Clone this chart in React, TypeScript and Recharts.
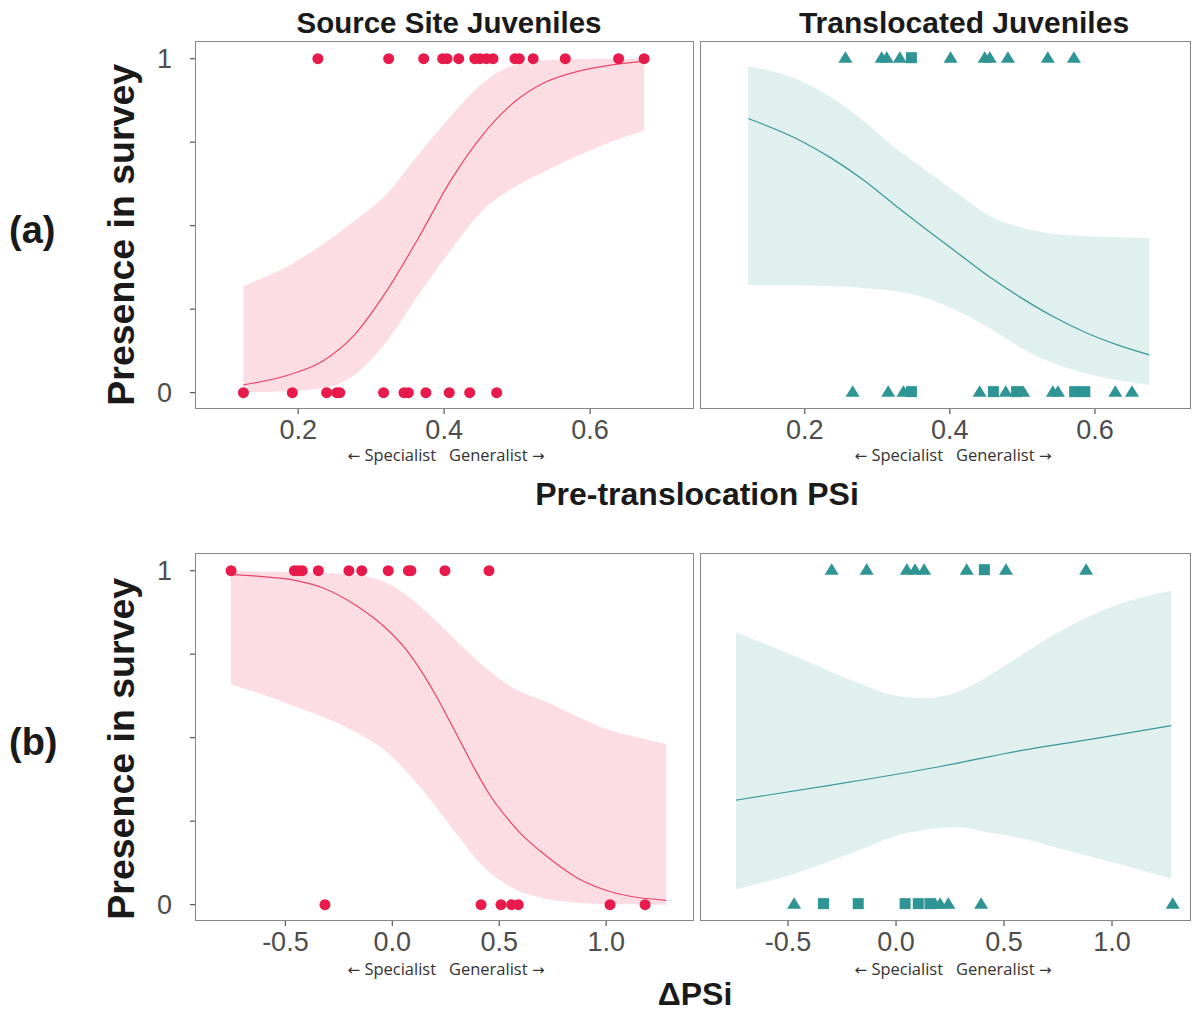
import React from "react";
import { ComposedChart, Area, Line, Scatter, XAxis, YAxis } from "recharts";

// presence (1) / absence (0) points, x = PSi or ΔPSi
const srcPsiPresent = [0.227, 0.324, 0.372, 0.398, 0.404, 0.42, 0.442, 0.449, 0.458, 0.467, 0.497, 0.503, 0.522, 0.566, 0.639, 0.674];
const srcPsiAbsent = [0.125, 0.192, 0.239, 0.253, 0.257, 0.317, 0.345, 0.351, 0.375, 0.407, 0.435, 0.472];
const trnPsiPresentTri = [0.256, 0.306, 0.313, 0.331, 0.401, 0.448, 0.455, 0.48, 0.535, 0.571];
const trnPsiPresentSq = [0.347];
const trnPsiAbsentTri = [0.266, 0.315, 0.336, 0.441, 0.477, 0.501, 0.542, 0.549, 0.628, 0.651];
const trnPsiAbsentSq = [0.347, 0.46, 0.492, 0.572, 0.586];

const srcDPresent = [-0.754, -0.458, -0.44, -0.421, -0.346, -0.203, -0.143, -0.019, 0.075, 0.087, 0.246, 0.452];
const srcDAbsent = [-0.315, 0.415, 0.508, 0.558, 0.589, 1.018, 1.182];
const trnDPresentTri = [-0.298, -0.136, 0.05, 0.088, 0.13, 0.327, 0.509, 0.88];
const trnDPresentSq = [0.409];
const trnDAbsentTri = [-0.472, 0.18, 0.204, 0.242, 0.394, 1.281];
const trnDAbsentSq = [-0.336, -0.175, 0.042, 0.103, 0.157];

// fitted curves and confidence bands
const srcPsiFitX = [0.125, 0.19, 0.234, 0.277, 0.321, 0.365, 0.408, 0.452, 0.495, 0.539, 0.583, 0.626, 0.674];
const srcPsiFitY = [0.023, 0.055, 0.095, 0.173, 0.304, 0.464, 0.632, 0.77, 0.868, 0.93, 0.962, 0.98, 0.993];
const srcPsiLo = [0.001, 0.005, 0.013, 0.053, 0.153, 0.294, 0.424, 0.544, 0.614, 0.664, 0.709, 0.749, 0.784];
const srcPsiHi = [0.319, 0.384, 0.444, 0.514, 0.594, 0.714, 0.825, 0.925, 0.98, 0.995, 0.999, 1.0, 1.0];

const trnPsiFitX = [0.122, 0.193, 0.236, 0.28, 0.324, 0.368, 0.412, 0.455, 0.499, 0.543, 0.587, 0.631, 0.675];
const trnPsiFitY = [0.821, 0.756, 0.703, 0.638, 0.562, 0.488, 0.416, 0.346, 0.283, 0.227, 0.18, 0.143, 0.113];
const trnPsiLo = [0.322, 0.321, 0.319, 0.313, 0.304, 0.283, 0.243, 0.193, 0.133, 0.088, 0.058, 0.038, 0.023];
const trnPsiHi = [0.977, 0.935, 0.885, 0.815, 0.734, 0.664, 0.594, 0.529, 0.494, 0.476, 0.469, 0.465, 0.462];

const srcDFitX = [-0.755, -0.621, -0.472, -0.324, -0.175, -0.027, 0.063, 0.122, 0.211, 0.27, 0.33, 0.389, 0.449, 0.538, 0.597, 0.716, 0.865, 1.014, 1.281];
const srcDFitY = [0.988, 0.983, 0.973, 0.948, 0.898, 0.826, 0.765, 0.712, 0.618, 0.547, 0.474, 0.402, 0.335, 0.258, 0.215, 0.148, 0.08, 0.04, 0.013];
const srcDBandX = [-0.755, -0.472, -0.175, -0.027, 0.122, 0.27, 0.419, 0.568, 0.716, 0.865, 1.014, 1.162, 1.281];
const srcDLo = [0.66, 0.598, 0.518, 0.458, 0.358, 0.238, 0.118, 0.048, 0.018, 0.006, 0.002, 0.001, 0.0];
const srcDHi = [0.998, 0.996, 0.988, 0.963, 0.898, 0.808, 0.718, 0.648, 0.608, 0.563, 0.523, 0.498, 0.48];

const trnDFitX = [-0.741, -0.3, 0.2, 0.583, 0.9, 1.274];
const trnDFitY = [0.313, 0.358, 0.413, 0.462, 0.495, 0.536];
const trnDBandX = [-0.741, -0.446, -0.152, -0.005, 0.142, 0.289, 0.436, 0.583, 0.73, 0.877, 1.024, 1.274];
const trnDLo = [0.046, 0.098, 0.168, 0.205, 0.225, 0.232, 0.215, 0.198, 0.173, 0.148, 0.123, 0.078];
const trnDHi = [0.816, 0.738, 0.658, 0.626, 0.618, 0.638, 0.688, 0.748, 0.808, 0.858, 0.898, 0.94];

const yTicks = [0, 0.25, 0.5, 0.75, 1];
const psiTicks = [0.2, 0.4, 0.6];
const dpsiTicks = [-0.5, 0, 0.5, 1.0];

const PINK = "#e8194b";
const PINK_LINE = "#e9466b";
const PINK_FILL = "#fcdde3";
const TEAL = "#2e9494";
const TEAL_LINE = "#3a9898";
const TEAL_FILL = "#dff0ef";

const FONT = "'Liberation Sans', Arial, sans-serif";

const pts = (xs: number[], y: number) => xs.map((x) => ({ x, y }));
const line = (xs: number[], ys: number[]) => xs.map((x, i) => ({ x, y: ys[i] }));
const band = (xs: number[], lo: number[], hi: number[]) => xs.map((x, i) => ({ x, band: [lo[i], hi[i]] }));

const dot = (fill: string) => (p: any) => <circle cx={p.cx} cy={p.cy} r={5.5} fill={fill} />;
const tri = (fill: string) => (p: any) => (
  <polygon points={`${p.cx - 7},${p.cy + 4} ${p.cx + 7},${p.cy + 4} ${p.cx},${p.cy - 7.5}`} fill={fill} />
);
const sq = (fill: string) => (p: any) => <rect x={p.cx - 5.5} y={p.cy - 6.5} width={11} height={11} fill={fill} />;

type PanelProps = {
  left: number;
  top: number;
  width: number;
  height: number;
  xDomain: [number, number];
  xTicks: number[];
  fmt: (v: number) => string;
  showY: boolean;
  source: boolean;
  ribbon: any[];
  fit: any[];
  present: number[];
  absent: number[];
  presentSq?: number[];
  absentSq?: number[];
};

function Panel(p: PanelProps) {
  const yw = p.showY ? 80 : 0;
  const xh = 60;
  const stroke = p.source ? PINK_LINE : TEAL_LINE;
  const fill = p.source ? PINK_FILL : TEAL_FILL;
  const color = p.source ? PINK : TEAL;
  const mark = p.source ? dot(color) : tri(color);
  return (
    <>
      <div style={{ position: "absolute", left: p.left - yw, top: p.top }}>
        <ComposedChart width={p.width + yw} height={p.height + xh} margin={{ top: 0, right: 0, bottom: 0, left: 0 }}>
          <XAxis
            type="number"
            dataKey="x"
            domain={p.xDomain}
            ticks={p.xTicks}
            tickFormatter={p.fmt}
            allowDataOverflow
            height={xh}
            axisLine={false}
            tickLine={{ stroke: "#555", strokeWidth: 1.2 }}
            tickSize={6}
            tickMargin={6}
            tick={{ fill: "#4d4d4d", fontSize: 27, fontFamily: FONT }}
          />
          <YAxis
            type="number"
            dataKey="y"
            domain={[-0.046, 1.05]}
            ticks={yTicks}
            tickFormatter={(v: number) => (v === 0 || v === 1 ? String(v) : "")}
            allowDataOverflow
            hide={!p.showY}
            width={yw}
            axisLine={false}
            tickLine={{ stroke: "#555", strokeWidth: 1.2 }}
            tickSize={6}
            tickMargin={18}
            tick={{ fill: "#4d4d4d", fontSize: 27, fontFamily: FONT }}
          />
          <Area data={p.ribbon} dataKey="band" type="monotone" stroke="none" fill={fill} fillOpacity={1} isAnimationActive={false} />
          <Line data={p.fit} dataKey="y" type="monotone" stroke={stroke} strokeWidth={1.2} dot={false} isAnimationActive={false} />
          <Scatter data={pts(p.present, 1)} shape={mark} isAnimationActive={false} />
          <Scatter data={pts(p.absent, 0)} shape={mark} isAnimationActive={false} />
          {p.presentSq && <Scatter data={pts(p.presentSq, 1)} shape={sq(color)} isAnimationActive={false} />}
          {p.absentSq && <Scatter data={pts(p.absentSq, 0)} shape={sq(color)} isAnimationActive={false} />}
        </ComposedChart>
      </div>
      <div
        style={{
          position: "absolute",
          left: p.left - 1,
          top: p.top - 1,
          width: p.width + 2,
          height: p.height + 2,
          border: "1.5px solid #888",
          boxSizing: "border-box",
          pointerEvents: "none",
        }}
      />
    </>
  );
}

const txt = (s: React.CSSProperties): React.CSSProperties => ({
  position: "absolute",
  fontFamily: FONT,
  color: "#1a1a1a",
  whiteSpace: "nowrap",
  lineHeight: 1,
  ...s,
});

const arrow: React.CSSProperties = { fontFamily: "'DejaVu Sans', sans-serif", fontSize: 15 };

function Hint({ cx, top }: { cx: number; top: number }) {
  return (
    <div style={txt({ left: cx - 150, width: 300, top, textAlign: "center", fontSize: 16.5, color: "#333", fontFamily: "'Open Sans', sans-serif" })}>
      <span style={arrow}>←</span> Specialist&nbsp;&nbsp; Generalist <span style={arrow}>→</span>
    </div>
  );
}

export default function App() {
  const fmt = (v: number) => v.toFixed(1);
  return (
    <div style={{ position: "absolute", left: 0, top: 0, width: 1196, height: 1010, background: "#fff" }}>
      <div style={txt({ left: 449 - 200, width: 400, top: 8, textAlign: "center", fontSize: 29.5, fontWeight: "bold" })}>
        Source Site Juveniles
      </div>
      <div style={txt({ left: 964 - 200, width: 400, top: 8, textAlign: "center", fontSize: 30, fontWeight: "bold" })}>
        Translocated Juveniles
      </div>

      <Panel left={196} top={42} width={497} height={366} xDomain={[0.06, 0.741]} xTicks={psiTicks} fmt={fmt} showY source
        ribbon={band(srcPsiFitX, srcPsiLo, srcPsiHi)} fit={line(srcPsiFitX, srcPsiFitY)} present={srcPsiPresent} absent={srcPsiAbsent} />
      <Panel left={701} top={42} width={489} height={366} xDomain={[0.057, 0.731]} xTicks={psiTicks} fmt={fmt} showY={false} source={false}
        ribbon={band(trnPsiFitX, trnPsiLo, trnPsiHi)} fit={line(trnPsiFitX, trnPsiFitY)}
        present={trnPsiPresentTri} absent={trnPsiAbsentTri} presentSq={trnPsiPresentSq} absentSq={trnPsiAbsentSq} />
      <Panel left={196} top={554} width={497} height={366} xDomain={[-0.918, 1.406]} xTicks={dpsiTicks} fmt={fmt} showY source
        ribbon={band(srcDBandX, srcDLo, srcDHi)} fit={line(srcDFitX, srcDFitY)} present={srcDPresent} absent={srcDAbsent} />
      <Panel left={701} top={554} width={489} height={366} xDomain={[-0.903, 1.361]} xTicks={dpsiTicks} fmt={fmt} showY={false} source={false}
        ribbon={band(trnDBandX, trnDLo, trnDHi)} fit={line(trnDFitX, trnDFitY)}
        present={trnDPresentTri} absent={trnDAbsentTri} presentSq={trnDPresentSq} absentSq={trnDAbsentSq} />

      <Hint cx={446} top={447} />
      <Hint cx={953} top={447} />
      <Hint cx={446} top={961} />
      <Hint cx={953} top={961} />

      <div style={txt({ left: 697 - 250, width: 500, top: 478, textAlign: "center", fontSize: 32, fontWeight: "bold" })}>
        Pre-translocation PSi
      </div>
      <div style={txt({ left: 695 - 100, width: 200, top: 978, textAlign: "center", fontSize: 32, fontWeight: "bold" })}>
        ΔPSi
      </div>

      {[234, 748].map((cy) => (
        <div key={cy} style={txt({ left: 122 - 200, width: 400, top: cy - 18, textAlign: "center", fontSize: 37.5, fontWeight: "bold", transform: "rotate(-90deg)" })}>
          Presence in survey
        </div>
      ))}
      <div style={txt({ left: 9, top: 211, fontSize: 38, fontWeight: "bold" })}>(a)</div>
      <div style={txt({ left: 9, top: 723, fontSize: 38, fontWeight: "bold" })}>(b)</div>
    </div>
  );
}
